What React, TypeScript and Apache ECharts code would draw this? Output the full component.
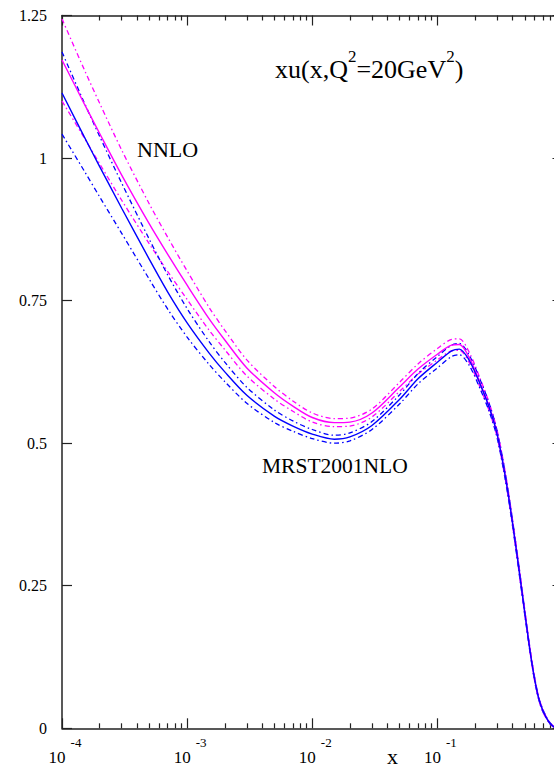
import React, { useEffect, useRef } from "react";
import * as echarts from "echarts";

// x values (log scale)
const xValues = [
  1e-4, 1.5e-4, 2e-4, 3e-4, 5e-4, 7e-4, 1e-3, 1.5e-3, 2e-3, 3e-3, 5e-3, 7e-3,
  0.01, 0.015, 0.02, 0.03, 0.05, 0.07, 0.1, 0.13, 0.15, 0.18, 0.22, 0.26, 0.3,
  0.35, 0.4, 0.45, 0.5, 0.55, 0.6, 0.65, 0.7, 0.75, 0.8, 0.85, 0.9, 1.0,
];

// NNLO (magenta)
const nnloCentral = [
  1.172, 1.096, 1.043, 0.97, 0.884, 0.831, 0.777, 0.718, 0.681, 0.632, 0.588, 0.565,
  0.545, 0.536, 0.537, 0.553, 0.599, 0.63, 0.656, 0.672, 0.673, 0.65, 0.605, 0.563, 0.517,
  0.441, 0.359, 0.278, 0.203, 0.137, 0.085, 0.05, 0.03, 0.017, 0.008, 0.003, 0.001, 0,
];
const nnloUpper = [
  1.244, 1.156, 1.096, 1.014, 0.919, 0.861, 0.802, 0.738, 0.698, 0.646, 0.599, 0.574,
  0.553, 0.543, 0.544, 0.56, 0.607, 0.639, 0.666, 0.682, 0.683, 0.659, 0.613, 0.57, 0.523,
  0.447, 0.364, 0.283, 0.207, 0.14, 0.088, 0.052, 0.032, 0.018, 0.009, 0.0035, 0.001, 0,
];
const nnloLower = [
  1.1, 1.036, 0.99, 0.926, 0.849, 0.801, 0.752, 0.698, 0.664, 0.618, 0.577, 0.556,
  0.537, 0.529, 0.53, 0.546, 0.591, 0.621, 0.646, 0.662, 0.663, 0.641, 0.597, 0.556, 0.511,
  0.435, 0.354, 0.273, 0.199, 0.134, 0.082, 0.048, 0.028, 0.016, 0.007, 0.0025, 0.001, 0,
];

// MRST2001NLO (blue)
const mrstCentral = [
  1.114, 1.038, 0.985, 0.912, 0.822, 0.765, 0.711, 0.658, 0.625, 0.584, 0.547, 0.53,
  0.516, 0.507, 0.511, 0.531, 0.577, 0.613, 0.642, 0.662, 0.665, 0.645, 0.603, 0.562, 0.516,
  0.44, 0.358, 0.277, 0.202, 0.136, 0.085, 0.05, 0.03, 0.017, 0.008, 0.003, 0.001, 0,
];
const mrstUpper = [
  1.186, 1.098, 1.038, 0.956, 0.857, 0.795, 0.736, 0.678, 0.642, 0.598, 0.558, 0.539,
  0.524, 0.514, 0.518, 0.538, 0.585, 0.622, 0.652, 0.672, 0.675, 0.654, 0.611, 0.569, 0.522,
  0.446, 0.363, 0.282, 0.206, 0.139, 0.088, 0.052, 0.032, 0.018, 0.009, 0.0035, 0.001, 0,
];
const mrstLower = [
  1.042, 0.978, 0.932, 0.868, 0.787, 0.735, 0.686, 0.638, 0.608, 0.57, 0.536, 0.521,
  0.508, 0.5, 0.504, 0.524, 0.569, 0.604, 0.632, 0.652, 0.655, 0.636, 0.595, 0.555, 0.51,
  0.434, 0.353, 0.272, 0.198, 0.133, 0.082, 0.048, 0.028, 0.016, 0.007, 0.0025, 0.001, 0,
];

// axis ticks
const xDecades = [1e-4, 1e-3, 1e-2, 1e-1, 1];
const xLabelDecades = [1e-4, 1e-3, 1e-2, 1e-1];
const xDecadeExponents = ["-4", "-3", "-2", "-1"];
const xMinorMultipliers = [2, 3, 4, 5, 6, 7, 8, 9];
const yTicks = [0, 0.25, 0.5, 0.75, 1, 1.25];
const yTickLabels = ["0", "0.25", "0.5", "0.75", "1", "1.25"];

const FONT = "Liberation Serif";
const MAGENTA = "#ff00ff";
const BLUE = "#0000ff";
const DASHDOT = [5, 3, 1.5, 3];

const xMinorTicks: number[] = [];
xLabelDecades.forEach((d) => {
  xMinorMultipliers.forEach((m) => xMinorTicks.push(+(d * m).toPrecision(3)));
});

const pairs = (ys: number[]) => xValues.map((x, i) => [x, ys[i]]);

export default function App() {
  const ref = useRef<HTMLDivElement>(null);
  useEffect(() => {
    if (!ref.current) return;
    const chart = echarts.init(ref.current, undefined, { renderer: "svg" });
    const axisLineStyle = { color: "#222", width: 1.5 };
    const tickStyle = { color: "#222", width: 1.2 };
    const logBase = {
      type: "log" as const,
      logBase: 10,
      min: 1e-4,
      max: 1,
      gridIndex: 0,
      splitLine: { show: false },
      minorSplitLine: { show: false },
    };
    const line = (name: string, data: number[], color: string, dashed: boolean) => ({
      name,
      type: "line",
      data: pairs(data),
      showSymbol: false,
      symbol: "none",
      smooth: 0.3,
      clip: true,
      lineStyle: { color, width: dashed ? 1.3 : 1.4, type: dashed ? DASHDOT : "solid" },
      z: dashed ? 2 : 3,
    });
    chart.setOption({
      animation: false,
      backgroundColor: "#ffffff",
      textStyle: { fontFamily: FONT },
      grid: { left: 62, right: 17.5, top: 15.5, bottom: 38.7, containLabel: false },
      xAxis: [
        {
          ...logBase,
          position: "bottom",
          axisLine: { show: true, lineStyle: axisLineStyle },
          axisTick: { show: true, inside: true, length: 10, lineStyle: tickStyle, customValues: xDecades },
          axisLabel: {
            show: true,
            margin: 8,
            fontFamily: FONT,
            customValues: xLabelDecades,
            formatter: (v: number) => {
              const idx = xLabelDecades.findIndex((d) => Math.abs(Math.log10(d) - Math.log10(v)) < 1e-6);
              return idx >= 0 ? `{a|10}{b|${xDecadeExponents[idx]}}` : "";
            },
            rich: {
              a: { fontFamily: FONT, fontSize: 17, color: "#000", lineHeight: 30, verticalAlign: "bottom", padding: [0, 0, 0, 6] },
              b: { fontFamily: FONT, fontSize: 13, color: "#000", verticalAlign: "top", padding: [0, 0, 0, 5] },
            },
          },
        },
        {
          ...logBase,
          position: "bottom",
          axisLine: { show: false },
          axisTick: { show: true, inside: true, length: 5, lineStyle: tickStyle, customValues: xMinorTicks },
          axisLabel: { show: false },
        },
        {
          ...logBase,
          position: "top",
          axisLine: { show: true, lineStyle: axisLineStyle },
          axisTick: { show: true, inside: true, length: 10, lineStyle: tickStyle, customValues: xDecades },
          axisLabel: { show: false },
        },
        {
          ...logBase,
          position: "top",
          axisLine: { show: false },
          axisTick: { show: true, inside: true, length: 5, lineStyle: tickStyle, customValues: xMinorTicks },
          axisLabel: { show: false },
        },
      ],
      yAxis: [
        {
          type: "value",
          min: 0,
          max: 1.25,
          interval: 0.25,
          position: "left",
          splitLine: { show: false },
          axisLine: { show: true, lineStyle: axisLineStyle },
          axisTick: { show: true, inside: true, length: 10, lineStyle: tickStyle },
          axisLabel: {
            show: true,
            margin: 15,
            fontFamily: FONT,
            fontSize: 16,
            color: "#000",
            formatter: (v: number) => {
              const idx = yTicks.findIndex((t) => Math.abs(t - v) < 1e-9);
              return idx >= 0 ? yTickLabels[idx] : "";
            },
          },
        },
        {
          type: "value",
          min: 0,
          max: 1.25,
          interval: 0.25,
          position: "right",
          splitLine: { show: false },
          axisLine: { show: true, lineStyle: axisLineStyle },
          axisTick: { show: true, inside: true, length: 10, lineStyle: tickStyle },
          axisLabel: { show: false },
        },
      ],
      series: [
        line("NNLO upper", nnloUpper, MAGENTA, true),
        line("NNLO lower", nnloLower, MAGENTA, true),
        line("MRST2001NLO upper", mrstUpper, BLUE, true),
        line("MRST2001NLO lower", mrstLower, BLUE, true),
        line("NNLO", nnloCentral, MAGENTA, false),
        line("MRST2001NLO", mrstCentral, BLUE, false),
      ],
      graphic: [
        {
          type: "text",
          left: 275,
          top: 48,
          style: {
            text: "{a|xu(x,Q}{s|2}{a|=20GeV}{s|2}{a|)}",
            rich: {
              a: { fontFamily: FONT, fontSize: 26, fill: "#000", lineHeight: 34, verticalAlign: "bottom" },
              s: { fontFamily: FONT, fontSize: 17, fill: "#000", verticalAlign: "top" },
            },
          },
        },
        {
          type: "text",
          left: 137,
          top: 138,
          style: { text: "NNLO", fontFamily: FONT, fontSize: 22, fill: "#000" },
        },
        {
          type: "text",
          left: 262,
          top: 455,
          style: { text: "MRST2001NLO", fontFamily: FONT, fontSize: 21.5, fill: "#000" },
        },
        {
          type: "text",
          left: 387,
          top: 745,
          style: { text: "x", fontFamily: FONT, fontSize: 22, fill: "#000" },
        },
      ],
    });
    return () => chart.dispose();
  }, []);
  return (
    <div style={{ position: "fixed", left: 0, top: 0, width: 554, height: 767, overflow: "hidden", background: "#fff" }}>
      <div ref={ref} style={{ width: 580, height: 767 }} />
    </div>
  );
}
